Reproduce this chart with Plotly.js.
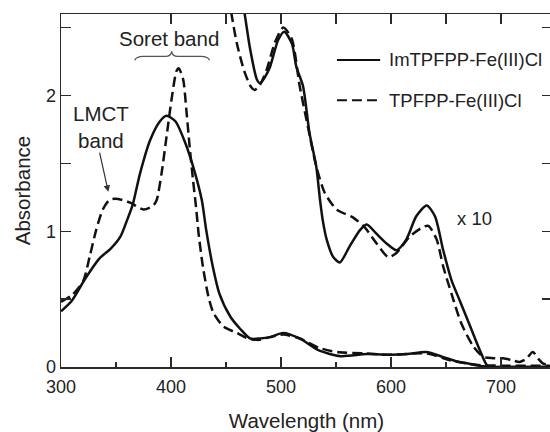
<!DOCTYPE html>
<html>
<head>
<meta charset="utf-8">
<script src="https://cdn.plot.ly/plotly-3.0.1.min.js"></script>
<style>
html, body { margin: 0; padding: 0; overflow: hidden; background: #fff; }
#chart { width: 553px; height: 432px; }
</style>
</head>
<body>
<div id="chart"></div>
<script>
// ImTPFPP-Fe(III)Cl, measured spectrum
var imWl = [300, 310, 322, 335, 345, 354, 360, 365, 372, 381, 390, 396, 404, 413, 420, 428, 432, 438, 444, 454, 463, 472, 481, 490, 502, 517, 535, 554, 578, 600, 615, 632, 647, 660, 669, 684, 700, 720, 746];
var imAbs = [0.41, 0.49, 0.65, 0.80, 0.87, 0.96, 1.08, 1.19, 1.43, 1.67, 1.81, 1.85, 1.81, 1.65, 1.48, 1.23, 1.01, 0.74, 0.54, 0.37, 0.28, 0.21, 0.21, 0.22, 0.25, 0.21, 0.12, 0.08, 0.095, 0.09, 0.095, 0.11, 0.075, 0.04, 0.027, 0.005, 0, 0, 0];

// TPFPP-Fe(III)Cl, measured spectrum
var tpWl = [300, 310, 320, 326, 332, 338, 344, 349, 356, 363, 375, 384, 387, 391.5, 396, 400.5, 405, 407, 411, 414, 417, 420, 423, 425, 429, 434, 438.5, 447.5, 460, 470, 480, 490, 502, 517, 535, 551, 575, 600, 632, 654, 670, 681, 700, 746];
var tpAbs = [0.48, 0.53, 0.63, 0.81, 1.01, 1.16, 1.23, 1.24, 1.23, 1.21, 1.16, 1.19, 1.23, 1.43, 1.70, 1.97, 2.18, 2.20, 2.12, 1.89, 1.62, 1.38, 1.16, 0.99, 0.74, 0.52, 0.40, 0.30, 0.25, 0.21, 0.20, 0.22, 0.24, 0.21, 0.14, 0.11, 0.10, 0.09, 0.10, 0.05, 0.025, 0.013, 0.01, 0.01];

// x10 magnified spectra
var imWl10 = [457, 462, 467, 472, 478, 481, 485, 490, 497.5, 503, 510, 514, 520, 526, 532, 535.5, 538, 541.5, 547.5, 553.5, 562.5, 572, 578, 587, 596, 605, 614, 623, 632.5, 640, 647.5, 655, 662.5, 672, 681, 688.5, 700, 720, 746];
var imAbs10 = [3.1, 2.85, 2.6, 2.34, 2.12, 2.09, 2.13, 2.21, 2.41, 2.47, 2.38, 2.21, 2.07, 1.72, 1.48, 1.23, 1.08, 0.94, 0.81, 0.77, 0.89, 1.01, 1.05, 0.98, 0.91, 0.86, 0.94, 1.11, 1.19, 1.11, 0.86, 0.64, 0.49, 0.30, 0.12, 0.0, 0, 0, 0];

var tpWl10 = [447, 452, 455, 459.7, 467, 473, 476, 481, 487, 494.5, 502, 509.7, 517, 525, 532, 540, 550.6, 565.7, 576, 587, 597.5, 605, 617, 629, 634, 641.5, 647.5, 655, 664, 675, 684, 693, 702, 710, 717, 723, 729, 734, 738, 746];
var tpAbs10 = [3.05, 2.75, 2.6, 2.39, 2.17, 2.06, 2.04, 2.08, 2.19, 2.39, 2.50, 2.42, 2.07, 1.75, 1.48, 1.28, 1.16, 1.10, 1.03, 0.91, 0.81, 0.84, 0.96, 1.03, 1.04, 0.94, 0.74, 0.54, 0.32, 0.15, 0.074, 0.065, 0.064, 0.05, 0.037, 0.06, 0.11, 0.06, 0.027, 0.01];

var seriesNames = ['ImTPFPP-Fe(III)Cl', 'TPFPP-Fe(III)Cl'];
var xTickVals = [300, 400, 500, 600, 700];
var xTickText = ['300', '400', '500', '600', '700'];
var topTickVals = [400, 450, 500, 550, 600, 650, 700];
var yTickVals = [0, 0.5, 1, 1.5, 2, 2.5];
var yTickText = ['0', '', '1', '', '2', ''];

var ink = '#111';
var txt = '#222';
var axc = '#2a2a2a';
var fam = 'Liberation Sans, Arial, Helvetica, sans-serif';
var DASH = '10px,5px';

function tr(x, y, dash, name) {
  return {
    x: x, y: y, type: 'scatter', mode: 'lines', name: name, showlegend: false,
    line: {color: ink, width: 2.5, dash: dash, shape: 'spline', smoothing: 0.7},
    hoverinfo: 'x+y', cliponaxis: true
  };
}

var data = [
  tr(imWl, imAbs, 'solid', seriesNames[0]),
  tr(tpWl, tpAbs, DASH, seriesNames[1]),
  tr(imWl10, imAbs10, 'solid', seriesNames[0] + ' x10'),
  tr(tpWl10, tpAbs10, DASH, seriesNames[1] + ' x10'),
  {x: [400], y: [-1], xaxis: 'x2', yaxis: 'y', type: 'scatter', mode: 'markers', showlegend: false, hoverinfo: 'skip', marker: {opacity: 0}}
];

var layout = {
  width: 553, height: 432,
  margin: {l: 61, r: 1, t: 14, b: 65},
  paper_bgcolor: '#fff', plot_bgcolor: '#fff',
  font: {family: fam, color: txt, size: 18},
  showlegend: false,
  xaxis: {
    range: [300, 746.4], showgrid: false, zeroline: false,
    showline: true, linecolor: axc, linewidth: 1.5,
    ticks: 'inside', ticklen: 10, tickwidth: 1.3, tickcolor: axc,
    tickvals: xTickVals, ticktext: xTickText, ticklabelstandoff: 3,
    tickfont: {size: 18, color: txt},
    minor: {ticks: 'inside', ticklen: 5, tickwidth: 1.3, tickcolor: axc, dtick: 50, showgrid: false},
    title: {text: 'Wavelength (nm)', font: {size: 20.5, color: txt}, standoff: 19}
  },
  xaxis2: {
    overlaying: 'x', side: 'top', matches: 'x', range: [300, 746.4],
    showgrid: false, zeroline: false, showline: true, linecolor: axc, linewidth: 1.5,
    ticks: 'inside', ticklen: 10, tickwidth: 1.3, tickcolor: axc,
    tickvals: topTickVals, showticklabels: false
  },
  yaxis: {
    range: [0, 2.6], showgrid: false, zeroline: false,
    showline: true, linecolor: axc, linewidth: 1.5, mirror: 'ticks',
    ticks: 'inside', ticklen: 10, tickwidth: 1.3, tickcolor: axc,
    tickvals: yTickVals, ticktext: yTickText,
    tickfont: {size: 18, color: txt},
    title: {text: 'Absorbance', font: {size: 20.5, color: txt}, standoff: 9}
  },
  shapes: [
    // Soret brace
    {type: 'path', xref: 'x', yref: 'y',
     path: 'M367,2.258 Q368,2.288 375,2.288 L395,2.288 Q400,2.288 400.6,2.325 Q401.2,2.288 406,2.288 L427,2.288 Q434,2.288 435,2.258',
     line: {color: '#555', width: 1.2}},
    // legend samples
    {type: 'line', xref: 'paper', yref: 'paper', x0: 0.562, x1: 0.650, y0: 0.870, y1: 0.870,
     line: {color: ink, width: 2}},
    {type: 'line', xref: 'paper', yref: 'paper', x0: 0.562, x1: 0.650, y0: 0.756, y1: 0.756,
     line: {color: ink, width: 2, dash: DASH}}
  ],
  annotations: [
    {xref: 'paper', yref: 'paper', x: 0.664, y: 0.870, xanchor: 'left', yanchor: 'middle',
     text: seriesNames[0], showarrow: false, font: {size: 18.5, color: txt}},
    {xref: 'paper', yref: 'paper', x: 0.664, y: 0.756, xanchor: 'left', yanchor: 'middle',
     text: seriesNames[1], showarrow: false, font: {size: 18.5, color: txt}},
    {xref: 'x', yref: 'y', x: 398.2, y: 2.418, text: 'Soret band', showarrow: false,
     font: {size: 20.5, color: txt}},
    {xref: 'x', yref: 'y', x: 336.8, y: 1.765, text: 'LMCT<br>band', showarrow: false,
     font: {size: 20.5, color: txt}},
    {xref: 'x', yref: 'y', x: 343, y: 1.29, axref: 'x', ayref: 'y', ax: 334.8, ay: 1.59,
     text: '', showarrow: true, arrowhead: 2, arrowsize: 1.1, arrowwidth: 1.2, arrowcolor: '#333'},
    {xref: 'x', yref: 'y', x: 675.5, y: 1.095, text: 'x 10', showarrow: false,
     font: {size: 18.5, color: txt}}
  ]
};

Plotly.newPlot('chart', data, layout, {staticPlot: true, displayModeBar: false});
</script>
</body>
</html>
